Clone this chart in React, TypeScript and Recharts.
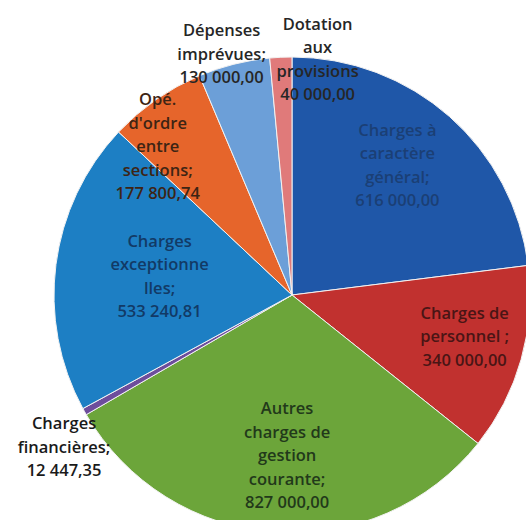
import React from 'react';
import { PieChart, Pie, Cell } from 'recharts';

// budget lines (fonctionnement)
const categories = [
  'Charges à caractère général',
  'Charges de personnel',
  'Autres charges de gestion courante',
  'Charges financières',
  'Charges exceptionnelles',
  "Opé. d'ordre entre sections",
  'Dépenses imprévues',
  'Dotation aux provisions',
];

const values = [616000, 340000, 827000, 12447.35, 533240.81, 177800.74, 130000, 40000];

// how the label text is wrapped in the original picture
const labelLines = [
  ['Charges à', 'caractère', 'général;'],
  ['Charges de', 'personnel ;'],
  ['Autres', 'charges de', 'gestion', 'courante;'],
  ['Charges', 'financières;'],
  ['Charges', 'exceptionne', 'lles;'],
  ['Opé.', "d'ordre", 'entre', 'sections;'],
  ['Dépenses', 'imprévues;'],
  ['Dotation', 'aux', 'provisions'],
];

const colors = ['#1f57a8', '#c1312f', '#6ca53a', '#6d4d9c', '#1d7fc4', '#e6652b', '#6c9fd8', '#e07a7a'];
const labelColors = ['#1b3f75', '#4a1515', '#22391a', '#1a1a1a', '#123a66', '#3d2414', '#262626', '#262626'];

// label placement: radius ratio, angle shift (deg)
const labelRadius = [0.69, 0.75, 0.69, 1.16, 0.56, 0.83, 1.04, 0.98];
const labelShift = [1.5, 1, 2.5, 5, 0.9, 8, 2.4, -9];

const data = categories.map((name, i) => ({ name, value: values[i] }));

const fmt = (v: number) => {
  const [int, dec] = v.toFixed(2).split('.');
  return int.replace(/\B(?=(\d{3})+(?!\d))/g, ' ') + ',' + dec;
};

const RAD = Math.PI / 180;
const LINE_H = 23.5;

const renderLabel = (props: any) => {
  const { cx, cy, midAngle, outerRadius, index } = props;
  const a = (midAngle + labelShift[index]) * RAD;
  const r = outerRadius * labelRadius[index];
  const x = cx + r * Math.cos(a);
  const y = cy - r * Math.sin(a);
  const lines = [...labelLines[index], fmt(values[index])];
  const y0 = y - ((lines.length - 1) * LINE_H) / 2 - 5;
  return (
    <text
      x={x}
      y={y0}
      textAnchor="middle"
      dominantBaseline="central"
      fill={labelColors[index]}
      fontFamily="'Open Sans', sans-serif"
      fontSize={16.5}
      fontWeight={600}
    >
      {lines.map((l, i) => (
        <tspan key={i} x={x} y={y0 + i * LINE_H}>
          {l}
        </tspan>
      ))}
    </text>
  );
};

export default function App() {
  return (
    <div style={{ position: 'fixed', left: 0, top: 0, width: 526, height: 520, background: '#fff' }}>
      <PieChart width={526} height={520}>
        <Pie
          data={data}
          dataKey="value"
          nameKey="name"
          cx={287}
          cy={290}
          outerRadius={238}
          startAngle={90}
          endAngle={-270}
          stroke="#f2f2f2"
          strokeWidth={1}
          label={renderLabel}
          labelLine={false}
          isAnimationActive={false}
        >
          {data.map((d, i) => (
            <Cell key={d.name} fill={colors[i]} />
          ))}
        </Pie>
      </PieChart>
    </div>
  );
}
